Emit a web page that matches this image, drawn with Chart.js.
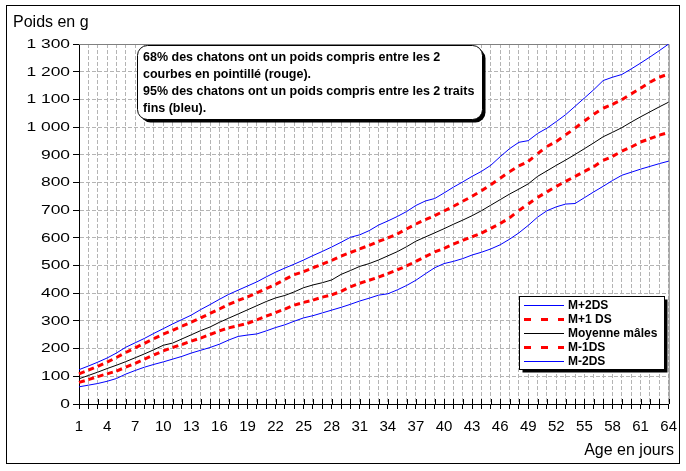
<!DOCTYPE html>
<html lang="fr">
<head>
<meta charset="utf-8">
<title>Courbes de poids des chatons</title>
<script src="https://cdn.jsdelivr.net/npm/chart.js@4.4.1/dist/chart.umd.min.js"></script>
<style>
  html, body { margin: 0; padding: 0; background: #fff; }
  #wrap { width: 686px; height: 471px; }
</style>
</head>
<body>
<div id="wrap"><canvas id="chart" width="686" height="471"></canvas></div>
<script>
// Age in days (category axis), a label shown every 3 days
const days = [1,2,3,4,5,6,7,8,9,10,11,12,13,14,15,16,17,18,19,20,21,22,23,24,25,26,27,28,29,30,31,32,
              33,34,35,36,37,38,39,40,41,42,43,44,45,46,47,48,49,50,51,52,53,54,55,56,57,58,59,60,61,62,63,64];
const labelEvery = 3;

// Weights in g
const mPlus2 = [124,137,151,166,184,205,221,237,255,272, 289,305,321,341,359,378,396,411,426,441,
                459,476,491,505,520,536,551,567,584,602, 611,626,646,661,677,695,717,733,742,762,
                783,802,822,840,862,893,922,945,951,977, 996,1020,1045,1075,1105,1135,1168,1180,1190,1210,
                1231,1253,1276,1300];
const mPlus1 = [109,122,136,151,168,186,203,219,236,252, 266,281,296,311,327,343,360,374,387,401,
                417,432,450,467,478,492,505,519,534,547, 560,573,587,600,614,632,650,666,680,697,
                714,732,750,770,792,815,839,860,876,904, 930,948,972,996,1022,1046,1068,1082,1099,1120,
                1140,1162,1180,1192];
const moyenne = [91,103,115,128,140,153,167,181,196,212, 220,235,250,265,278,295,310,325,340,355,
                 370,383,392,405,420,430,438,448,468,482, 497,507,520,535,550,568,588,603,618,633,
                 649,664,680,698,718,738,758,776,795,822, 842,862,881,901,922,943,965,981,998,1018,
                 1037,1055,1073,1090];
const mMinus1 = [78,88,99,109,119,133,147,162,177,192, 204,215,227,238,251,264,275,283,291,304,
                 317,330,343,357,367,375,386,394,407,423, 436,447,458,471,484,499,515,532,549,562,
                 577,591,604,617,634,652,672,699,722,746, 766,786,804,822,840,857,880,894,913,928,
                 946,958,971,980];
const mMinus2 = [62,68,74,82,92,108,121,133,143,152, 162,172,184,194,204,216,231,244,249,253,
                 264,276,286,299,311,319,329,339,349,360, 372,382,393,398,412,428,447,470,492,507,
                 515,525,538,548,560,575,595,618,645,675, 698,712,722,724,745,766,786,807,826,837,
                 848,858,868,877];

const seriesNames = ['M+2DS', 'M+1 DS', 'Moyenne mâles', 'M-1DS', 'M-2DS'];
const yMin = 0, yMax = 1300, yStep = 100;
const yTitle = 'Poids en g';
const xTitle = 'Age en jours';
const noteLines = [
    '68% des chatons ont un poids compris entre les 2',
    'courbes en pointillé (rouge).',
    '95% des chatons ont un poids compris entre les 2 traits',
    'fins (bleu).'
];

/**
 * Thin solid curve (mean and +/-2 SD).
 */
function thinLine(label, data, color) {
    return { label, data, borderColor: color, borderWidth: 1, pointRadius: 0, tension: 0, fill: false };
}

/**
 * Thick red dashed curve. Excel restarts the dash on every segment,
 * so each segment is stroked on its own (alternating offset splits them).
 */
function dashLine(label, data) {
    return {
        label, data, borderColor: '#ff0000', borderWidth: 3, borderDash: [6, 60],
        pointRadius: 0, tension: 0, fill: false, legendDash: [7, 10],
        segment: { borderDashOffset: c => (c.p0DataIndex % 2) * 0.01 }
    };
}

function fmtThousands(v) {
    return String(v).replace(/\B(?=(\d{3})+(?!\d))/g, ' ');
}

function roundRect(ctx, x, y, w, h, r) {
    ctx.beginPath();
    ctx.moveTo(x + r, y);
    ctx.arcTo(x + w, y, x + w, y + h, r);
    ctx.arcTo(x + w, y + h, x, y + h, r);
    ctx.arcTo(x, y + h, x, y, r);
    ctx.arcTo(x, y, x + w, y, r);
    ctx.closePath();
}

// Frame, titles, note box, legend and stretched y labels
const decor = {
    id: 'decor',
    beforeDraw(chart) {
        const ctx = chart.ctx;
        ctx.save();
        ctx.fillStyle = '#fff';
        ctx.fillRect(0, 0, chart.width, chart.height);
        ctx.restore();
    },
    beforeDatasetsDraw(chart) {
        const { ctx, chartArea: a } = chart;
        const xs = chart.scales.x;
        ctx.save();
        // grey plot frame on top and right
        ctx.strokeStyle = '#808080';
        ctx.lineWidth = 1;
        ctx.beginPath();
        ctx.moveTo(a.left, a.top + 0.5);
        ctx.lineTo(a.right + 0.5, a.top + 0.5);
        ctx.lineTo(a.right + 0.5, a.bottom);
        ctx.stroke();
        // tick marks crossing the x axis
        ctx.strokeStyle = '#000';
        ctx.beginPath();
        xs.ticks.forEach((t, i) => {
            const x = Math.round(xs.getPixelForTick(i)) + 0.5;
            ctx.moveTo(x, a.bottom - 5);
            ctx.lineTo(x, a.bottom);
        });
        ctx.stroke();
        ctx.restore();
    },
    afterDraw(chart) {
        const { ctx, chartArea: a } = chart;
        const ys = chart.scales.y;
        ctx.save();

        // outer frame
        ctx.strokeStyle = '#000';
        ctx.lineWidth = 1;
        ctx.strokeRect(6.5, 5.5, 673, 458);

        // y tick labels, horizontally stretched like the original
        ctx.fillStyle = '#000';
        ctx.font = '12px "Liberation Sans", Arial, sans-serif';
        ctx.textAlign = 'right';
        ctx.textBaseline = 'middle';
        ys.ticks.forEach(t => {
            ctx.save();
            ctx.translate(a.left - 9, ys.getPixelForValue(t.value) + 0.5);
            ctx.scale(1.45, 1);
            ctx.fillText(fmtThousands(t.value), 0, 0);
            ctx.restore();
        });

        // axis titles
        ctx.font = '16px "Liberation Sans", Arial, sans-serif';
        ctx.textAlign = 'left';
        ctx.textBaseline = 'alphabetic';
        ctx.fillText(yTitle, 13, 27);
        ctx.textAlign = 'right';
        ctx.fillText(xTitle, 674, 455);

        // note box with shadow
        const nx = 137.5, ny = 45.5, nw = 345, nh = 74;
        ctx.fillStyle = '#000';
        roundRect(ctx, nx + 3, ny + 3, nw, nh, 10);
        ctx.fill();
        ctx.fillStyle = '#fff';
        roundRect(ctx, nx, ny, nw, nh, 10);
        ctx.fill();
        ctx.strokeStyle = '#000';
        ctx.stroke();
        ctx.fillStyle = '#000';
        ctx.font = 'bold 12.5px "Liberation Sans", Arial, sans-serif';
        ctx.textAlign = 'left';
        ctx.textBaseline = 'middle';
        noteLines.forEach((line, i) => ctx.fillText(line, 143, 58 + i * 17));

        // legend box with shadow
        const lx = 519.5, ly = 296.5, lw = 145, lh = 73;
        ctx.fillStyle = '#000';
        ctx.fillRect(lx + 3, ly + 3, lw, lh);
        ctx.fillStyle = '#fff';
        ctx.fillRect(lx, ly, lw, lh);
        ctx.strokeRect(lx, ly, lw, lh);
        ctx.font = 'bold 12px "Liberation Sans", Arial, sans-serif';
        chart.data.datasets.forEach((ds, i) => {
            const y = 305 + i * 14;
            ctx.save();
            ctx.strokeStyle = ds.borderColor;
            ctx.lineWidth = ds.borderWidth;
            ctx.setLineDash(ds.legendDash || []);
            ctx.beginPath();
            ctx.moveTo(524, y + 0.5);
            ctx.lineTo(564, y + 0.5);
            ctx.stroke();
            ctx.restore();
            ctx.fillStyle = '#000';
            ctx.fillText(ds.label, 568, y + 1);
        });
        ctx.restore();
    }
};

const gridGrey = '#b4b4b4';

const chart = new Chart(document.getElementById('chart').getContext('2d'), {
    type: 'line',
    data: {
        labels: days,
        datasets: [
            thinLine(seriesNames[0], mPlus2, '#0000ff'),
            dashLine(seriesNames[1], mPlus1),
            thinLine(seriesNames[2], moyenne, '#000000'),
            dashLine(seriesNames[3], mMinus1),
            thinLine(seriesNames[4], mMinus2, '#0000ff')
        ]
    },
    options: {
        responsive: false,
        animation: false,
        events: [],
        layout: { padding: { top: 44, right: 17, bottom: 0, left: 0 } },
        plugins: { legend: { display: false }, tooltip: { enabled: false } },
        scales: {
            x: {
                afterFit: s => { s.height = 67; },
                grid: {
                    color: c => (c.index === 0 ? 'rgba(0,0,0,0)' : gridGrey),
                    tickColor: '#000', tickLength: 5, lineWidth: 1
                },
                border: { color: '#000', width: 1, dash: [4, 2] },
                ticks: {
                    autoSkip: false, maxRotation: 0, minRotation: 0, padding: 9, color: '#000',
                    font: { family: '"Liberation Sans", Arial, sans-serif', size: 15 },
                    callback: (v, i) => (i % labelEvery === 0 ? String(days[i]) : '')
                }
            },
            y: {
                min: yMin, max: yMax,
                afterFit: s => { s.width = 79; },
                grid: {
                    color: c => (c.tick && c.tick.value === yMin ? 'rgba(0,0,0,0)' : gridGrey),
                    tickColor: '#000', tickLength: 6, lineWidth: 1
                },
                border: { color: '#000', width: 1, dash: [4, 2] },
                ticks: { stepSize: yStep, display: false }
            }
        }
    },
    plugins: [decor]
});
</script>
</body>
</html>
